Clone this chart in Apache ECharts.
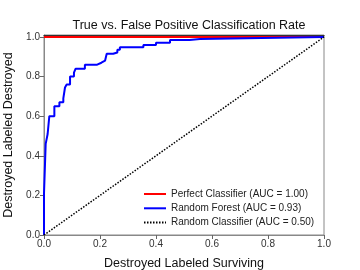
<!DOCTYPE html>
<html><head><meta charset="utf-8">
<script src="https://cdn.jsdelivr.net/npm/echarts@6/dist/echarts.min.js"></script>
<style>html,body{margin:0;padding:0;background:#fff}#c{width:360px;height:270px}</style>
</head><body><div id="c"></div>
<script>
var titleText = 'True vs. False Positive Classification Rate';
var xTitle = 'Destroyed Labeled Surviving';
var yTitle = 'Destroyed Labeled Destroyed';
var tickValues = [0, 0.2, 0.4, 0.6, 0.8, 1.0];
var perfectFpr = [0, 1];
var perfectTpr = [1, 1];
var randomFpr = [0, 1];
var randomTpr = [0, 1];
var rfFpr = [0,0,0.006,0.006,0.013,0.013,0.019,0.019,0.037,0.037,0.055,0.055,0.069,0.069,0.075,0.075,0.081,0.081,0.093,0.093,0.107,0.107,0.113,0.113,0.146,0.146,0.19,0.19,0.205,0.205,0.218,0.218,0.224,0.224,0.247,0.247,0.262,0.262,0.271,0.271,0.355,0.355,0.40,0.40,0.45,0.45,0.52,0.52,0.557,0.557,1.0];
var rfTpr = [0,0.21,0.21,0.46,0.46,0.51,0.51,0.60,0.60,0.65,0.65,0.67,0.67,0.69,0.69,0.745,0.745,0.76,0.76,0.80,0.80,0.82,0.82,0.84,0.84,0.86,0.86,0.87,0.87,0.88,0.88,0.89,0.89,0.915,0.915,0.922,0.922,0.935,0.935,0.948,0.948,0.96,0.96,0.971,0.971,0.985,0.985,0.99,0.99,1.0,1.0];
var names = ['Perfect Classifier (AUC = 1.00)', 'Random Forest (AUC = 0.93)', 'Random Classifier (AUC = 0.50)'];

function zip(a, b){ return a.map(function(v,i){ return [v, b[i]]; }); }
var font = 'Liberation Sans, Arial, sans-serif';
var chart = echarts.init(document.getElementById('c'), null, {renderer:'canvas'});
chart.setOption({
  animation: false,
  title: {text: titleText, left: 184, top: 14, textAlign: 'center',
    textStyle: {fontFamily: font, fontSize: 12.5, fontWeight: 'normal', color: '#111'}},
  grid: {left: 44, right: 36, top: 35, bottom: 35, show: true, borderColor: '#888', borderWidth: 1,
    backgroundColor: '#fff', containLabel: false, outerBoundsMode: 'none'},
  legend: {orient: 'vertical', left: 138, top: 184, itemWidth: 22, itemHeight: 10, itemGap: 4.3,
    itemStyle: {opacity: 0},
    textStyle: {fontFamily: font, fontSize: 10, color: '#222'}, data: names},
  xAxis: [{type: 'value', min: 0, max: 1, interval: 0.2,
    name: xTitle, nameLocation: 'middle', nameGap: 22,
    nameTextStyle: {fontFamily: font, fontSize: 12.5, color: '#111'},
    axisLine: {show: true, lineStyle: {color: '#888'}},
    axisTick: {show: true, length: 4, lineStyle: {color: '#666'}},
    axisLabel: {fontFamily: font, fontSize: 10, color: '#333', margin: 4, formatter: function(v){return v.toFixed(1);}},
    splitLine: {show: false}},
   {type: 'value', position: 'top', min: 0, max: 1,
    axisLine: {show: true, lineStyle: {color: '#333'}}, axisTick: {show: false}, axisLabel: {show: false}, splitLine: {show: false}}],
  yAxis: {type: 'value', min: 0, max: 1.01,
    name: yTitle, nameLocation: 'middle', nameGap: 27,
    nameTextStyle: {fontFamily: font, fontSize: 12.5, color: '#111'},
    axisLine: {show: true, lineStyle: {color: '#888'}},
    axisTick: {show: true, length: 4, lineStyle: {color: '#666'}, customValues: tickValues},
    axisLabel: {fontFamily: font, fontSize: 10, color: '#333', margin: 4, customValues: tickValues, formatter: function(v){return v.toFixed(1);}},
    splitLine: {show: false}},
  series: [
    {name: names[0], type: 'line', data: zip(perfectFpr, perfectTpr), symbol: 'none', clip: false,
      lineStyle: {color: '#ff0000', width: 2}, itemStyle: {color: '#ff0000'}},
    {name: names[1], type: 'line', data: zip(rfFpr, rfTpr), symbol: 'none', clip: false,
      lineStyle: {color: '#0000ff', width: 2}, itemStyle: {color: '#0000ff'}},
    {name: names[2], type: 'line', data: zip(randomFpr, randomTpr), symbol: 'none',
      lineStyle: {color: '#000', width: 1.5, type: [1.5, 1.5]}, itemStyle: {color: '#000'}}
  ]
});
</script></body></html>
